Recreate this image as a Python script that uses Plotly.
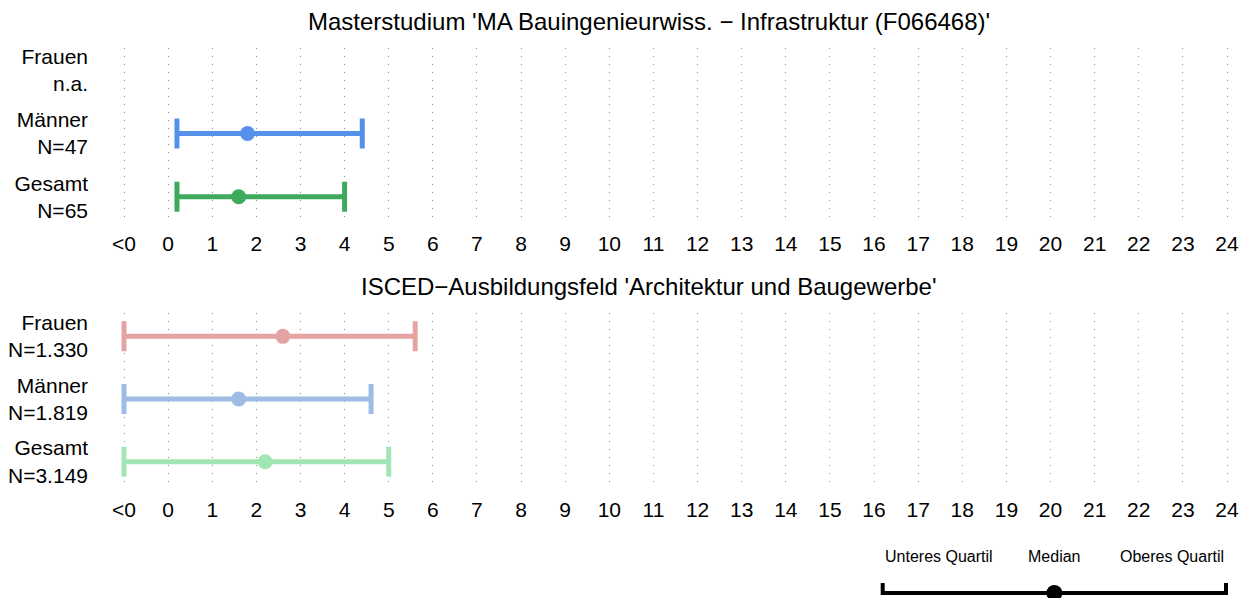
import plotly.graph_objects as go

# ---------------- data ----------------
groups = ["Frauen", "Männer", "Gesamt"]
row_pos = [2, 1, 0]

tick_vals = list(range(-1, 25))
tick_text = ["<0"] + [str(v) for v in range(0, 25)]

top_title = "Masterstudium 'MA Bauingenieurwiss. − Infrastruktur (F066468)'"
top_n = ["n.a.", "N=47", "N=65"]
top_lower = [None, 0.2, 0.2]
top_median = [None, 1.8, 1.6]
top_upper = [None, 4.4, 4.0]
top_colors = ["#E08080", "#5590EA", "#3DAA5C"]

bot_title = "ISCED−Ausbildungsfeld 'Architektur und Baugewerbe'"
bot_n = ["N=1.330", "N=1.819", "N=3.149"]
bot_lower = [-1, -1, -1]
bot_median = [2.6, 1.6, 2.2]
bot_upper = [5.6, 4.6, 5.0]
bot_colors = ["#E5A3A3", "#9EBCE6", "#A3E6B5"]

leg_labels = ["Unteres Quartil", "Median", "Oberes Quartil"]
leg_vals = [0.0, 0.5, 1.0]

FONT = "Liberation Sans, Arial, Helvetica, sans-serif"
PAGE_W, PAGE_H = 1250, 598
OFF = 8  # default body margin of the html page
W, H = PAGE_W - OFF, PAGE_H - OFF


def fx(px):
    return (px - OFF) / W


def fy(py):
    return 1 - (py - OFF) / H


fig = go.Figure()


def add_panel(lower, median, upper, colors, xa, ya):
    for i in range(len(groups)):
        if median[i] is None:
            continue
        fig.add_trace(go.Scatter(
            x=[median[i]], y=[row_pos[i]], mode="markers",
            xaxis=xa, yaxis=ya,
            marker=dict(size=15, color=colors[i]),
            error_x=dict(type="data", symmetric=False,
                         array=[upper[i] - median[i]],
                         arrayminus=[median[i] - lower[i]],
                         color=colors[i], thickness=5, width=15),
            showlegend=False, hoverinfo="skip", cliponaxis=False,
        ))


add_panel(top_lower, top_median, top_upper, top_colors, "x", "y")
add_panel(bot_lower, bot_median, bot_upper, bot_colors, "x2", "y2")

# legend element
fig.add_trace(go.Scatter(
    x=[leg_vals[1]], y=[0], mode="markers", xaxis="x3", yaxis="y3",
    marker=dict(size=16, color="black"),
    error_x=dict(type="data", symmetric=False,
                 array=[leg_vals[2] - leg_vals[1]],
                 arrayminus=[leg_vals[1] - leg_vals[0]],
                 color="black", thickness=4, width=10),
    showlegend=False, hoverinfo="skip", cliponaxis=False,
))

# ---------- geometry (page pixel coordinates) ----------
px_unit = (1227 - 124) / 25.0
Lpx, Rpx = 100, 1240
xrange_ = [-1 - (124 - Lpx) / px_unit, 24 + (Rpx - 1227) / px_unit]
xdom = [fx(Lpx), fx(Rpx)]


def ydom(top_px, bot_px):
    return [fy(bot_px), fy(top_px)]


xaxis_common = dict(
    range=xrange_, domain=xdom, tickmode="array", tickvals=tick_vals,
    ticktext=tick_text, showgrid=True, gridcolor="#8a8a8a", gridwidth=1,
    griddash="1px,7px", zeroline=False, showline=False, ticks="",
    tickfont=dict(family=FONT, size=21, color="black"),
    ticklabelstandoff=10, fixedrange=True,
)
yaxis_common = dict(
    tickmode="array", tickvals=row_pos, showgrid=False, zeroline=False,
    showline=False, ticks="", tickfont=dict(family=FONT, size=21, color="black"),
    ticklabelstandoff=11, fixedrange=True,
)

fig.update_layout(
    width=W, height=H, margin=dict(l=0, r=0, t=0, b=0),
    paper_bgcolor="white", plot_bgcolor="white",
    font=dict(family=FONT, color="black"),
    xaxis=dict(**xaxis_common, anchor="y"),
    yaxis=dict(**yaxis_common, range=[-0.348, 2.355], domain=ydom(45, 218),
               anchor="x",
               ticktext=[f"{g}<br>{n}" for g, n in zip(groups, top_n)]),
    xaxis2=dict(**xaxis_common, anchor="y2"),
    yaxis2=dict(**yaxis_common, range=[-0.374, 2.374], domain=ydom(313, 487),
                anchor="x2",
                ticktext=[f"{g}<br>{n}" for g, n in zip(groups, bot_n)]),
)

# legend axis
lp0, lp1 = 882.7, 1226.0
lunit = lp1 - lp0
ld = [860, 1248]
fig.update_layout(
    xaxis3=dict(range=[(ld[0] - lp0) / lunit, (ld[1] - lp0) / lunit],
                domain=[fx(ld[0]), fx(ld[1])], anchor="y3", visible=False,
                fixedrange=True),
    yaxis3=dict(range=[-0.2, 2.6], domain=[fy(598), fy(570)], anchor="x3",
                visible=False, fixedrange=True),
)

# titles
for txt, ypx in [(top_title, 19), (bot_title, 286)]:
    fig.add_annotation(text=txt, x=fx(648.5), xref="paper", y=fy(ypx),
                       yref="paper", xanchor="center", yanchor="middle",
                       showarrow=False,
                       font=dict(family=FONT, size=24, color="black"))

# legend labels
for lab, v, anc in zip(leg_labels, leg_vals, ["left", "center", "right"]):
    fig.add_annotation(text=lab, x=v, xref="x3", y=fy(559), yref="paper",
                       xanchor=anc, yanchor="middle", showarrow=False,
                       font=dict(family=FONT, size=16, color="black"))

fig.write_html("out.html")
